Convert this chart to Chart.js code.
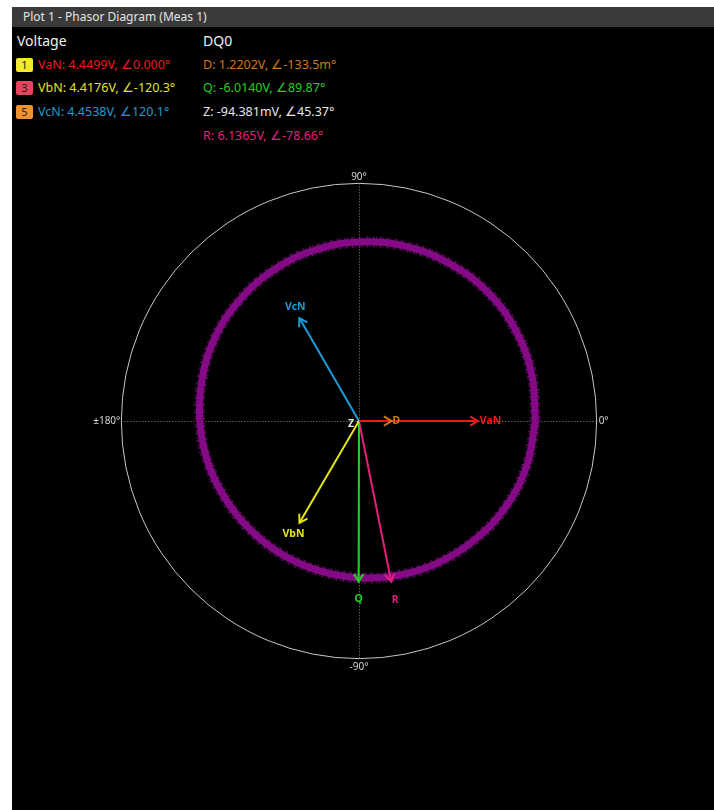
<!DOCTYPE html>
<html>
<head>
<meta charset="utf-8">
<script src="https://cdn.jsdelivr.net/npm/chart.js@4"></script>
<style>
  body { margin: 0; width: 714px; height: 810px; background: #fff; overflow: hidden; font-family: "Noto Sans", "Open Sans", sans-serif; }
  #panel { position: absolute; left: 12px; top: 7px; width: 702px; height: 803px; background: #000; }
  #titlebar { position: absolute; left: 0; top: 0; width: 702px; height: 20px; background: #3a3a3a; color: #e4e4e4; font-size: 12px; line-height: 20px; padding-left: 11px; box-sizing: border-box; }
  .hdr { position: absolute; color: #f0f0f0; font-size: 14px; line-height: 18px; }
  .row { position: absolute; font-size: 12.5px; line-height: 16px; white-space: nowrap; }
  .badge { display: inline-block; width: 17px; height: 14px; line-height: 14px; border-radius: 2px; text-align: center; color: #222; font-size: 11px; margin-right: 5px; vertical-align: 0px; }
  #phasor { position: absolute; left: 0; top: 134px; }
</style>
</head>
<body>
<div id="panel">
  <div id="titlebar">Plot 1 - Phasor Diagram (Meas 1)</div>
  <div class="hdr" style="left:5px;top:25px;">Voltage</div>
  <div class="hdr" style="left:191px;top:25px;">DQ0</div>
  <div id="legend"></div>
  <canvas id="phasor" width="694" height="560"></canvas>
</div>
<script>
// phasors: name, magnitude (V), angle (deg)
const phasorNames = ['VaN', 'VbN', 'VcN', 'D', 'Q', 'Z', 'R'];
const phasorMags = [4.4499, 4.4176, 4.4538, 1.2202, -6.0140, -0.094381, 6.1365];
const phasorAngles = [0, -120.3, 120.1, -0.1335, 89.87, 45.37, -78.66];
const magLabels = ['4.4499V', '4.4176V', '4.4538V', '1.2202V', '-6.0140V', '-94.381mV', '6.1365V'];
const angleLabels = ['0.000°', '-120.3°', '120.1°', '-133.5m°', '89.87°', '45.37°', '-78.66°'];
const channelNums = ['1', '3', '5'];

// space vector trace, radius (V) read around the ring
const ringAngles = [0, 15, 30, 45, 60, 75, 90, 105, 120, 135, 150, 165, 180,
                    195, 210, 225, 240, 255, 270, 285, 300, 315, 330, 345, 360];
const ringRadii = [6.61, 6.70, 6.78, 6.82, 6.80, 6.77, 6.70, 6.61, 6.49, 6.36, 6.23, 6.08, 5.96,
                   5.87, 5.79, 5.76, 5.77, 5.80, 5.87, 5.97, 6.09, 6.22, 6.37, 6.50, 6.61];

// polar grid
const gridRadius = 8.9;
const gridLabels = ['0°', '90°', '±180°', '-90°'];

const colors = {
  VaN: '#f01818', VbN: '#e4e414', VcN: '#1c9cd6',
  D: '#d4761a', Q: '#22d022', Z: '#e6e6e6', R: '#e2207c'
};
const badgeColors = ['#f2ea2a', '#e4445e', '#f0922e'];
const pxPerVolt = 26.7;

// legend
const legend = document.getElementById('legend');
const rowTop = [50, 73, 97, 121];
for (let i = 0; i < 3; i++) {
  const d = document.createElement('div');
  d.className = 'row';
  d.style.left = '4px';
  d.style.top = rowTop[i] + 'px';
  d.innerHTML = '<span class="badge" style="background:' + badgeColors[i] + '">' + channelNums[i] + '</span>' +
    '<span style="color:' + colors[phasorNames[i]] + '">' + phasorNames[i] + ': ' + magLabels[i] + ', ∠' + angleLabels[i] + '</span>';
  legend.appendChild(d);
}
for (let i = 3; i < 7; i++) {
  const d = document.createElement('div');
  d.className = 'row';
  d.style.left = '191px';
  d.style.top = rowTop[i - 3] + 'px';
  d.style.color = colors[phasorNames[i]];
  d.textContent = phasorNames[i] + ': ' + magLabels[i] + ', ∠' + angleLabels[i];
  legend.appendChild(d);
}

const rad = a => a * Math.PI / 180;
const ringPts = ringAngles.map((a, i) => ({ x: ringRadii[i] * Math.cos(rad(a)), y: ringRadii[i] * Math.sin(rad(a)) }));

const datasets = phasorNames.map((n, i) => ({
  label: n,
  data: [{ x: 0, y: 0 }, { x: phasorMags[i] * Math.cos(rad(phasorAngles[i])), y: phasorMags[i] * Math.sin(rad(phasorAngles[i])) }],
  showLine: true,
  borderColor: colors[n],
  borderWidth: 2,
  pointRadius: 0,
  order: n === 'D' ? 3 : 1
}));
datasets.push({
  label: 'trace',
  data: ringPts,
  showLine: true,
  borderColor: '#840a86',
  borderWidth: 7,
  tension: 0.4,
  pointRadius: 0,
  order: 20
});
datasets.push({
  label: 'trace fuzz',
  data: ringPts,
  showLine: true,
  borderColor: 'rgba(140,16,142,0.6)',
  borderWidth: 11,
  borderDash: [1, 1, 2, 3],
  tension: 0.4,
  pointRadius: 0,
  order: 21
});

// label placement relative to arrow tip
const tipLabel = {
  VaN: { dx: 2, dy: 0, align: 'left' },
  D: { dx: 1, dy: 0, align: 'left' },
  VcN: { dx: -4, dy: -11, align: 'center' },
  VbN: { dx: -6, dy: 11, align: 'center' },
  Q: { dx: 0, dy: 17, align: 'center' },
  R: { dx: 4, dy: 18, align: 'center' },
  Z: { dx: -8, dy: 3, align: 'center' }
};

const polarGrid = {
  id: 'polarGrid',
  beforeDatasetsDraw(chart) {
    const { ctx, scales: { x, y } } = chart;
    const cx = x.getPixelForValue(0), cy = y.getPixelForValue(0);
    const r = x.getPixelForValue(gridRadius) - cx;
    ctx.save();
    ctx.strokeStyle = '#c8c8c8';
    ctx.lineWidth = 1;
    ctx.beginPath();
    ctx.arc(cx, cy, r, 0, Math.PI * 2);
    ctx.stroke();
    ctx.strokeStyle = '#8a8a8a';
    ctx.setLineDash([1, 2]);
    ctx.beginPath();
    ctx.moveTo(cx - r, cy + 0.5); ctx.lineTo(cx + r, cy + 0.5);
    ctx.moveTo(cx + 0.5, cy - r); ctx.lineTo(cx + 0.5, cy + r);
    ctx.stroke();
    ctx.setLineDash([]);
    ctx.fillStyle = '#d4d4d4';
    ctx.font = '10px "Noto Sans", sans-serif';
    ctx.textBaseline = 'middle';
    ctx.textAlign = 'left';
    ctx.fillText(gridLabels[0], cx + r + 2, cy);
    ctx.textAlign = 'center';
    ctx.fillText(gridLabels[1], cx, cy - r - 6);
    ctx.fillText(gridLabels[3], cx, cy + r + 9);
    ctx.textAlign = 'right';
    ctx.fillText(gridLabels[2], cx - r - 1, cy);
    ctx.restore();
  },
  afterDatasetsDraw(chart) {
    const { ctx } = chart;
    ctx.save();
    ctx.font = 'bold 10.5px "Noto Sans", sans-serif';
    ctx.textBaseline = 'middle';
    phasorNames.forEach((n, i) => {
      const pts = chart.getDatasetMeta(i).data;
      const x0 = pts[0].x, y0 = pts[0].y, x1 = pts[1].x, y1 = pts[1].y;
      const ang = Math.atan2(y1 - y0, x1 - x0);
      ctx.strokeStyle = colors[n];
      ctx.lineWidth = 2;
      if (n !== 'Z') {
        ctx.beginPath();
        ctx.moveTo(x1 - 9 * Math.cos(ang - 0.55), y1 - 9 * Math.sin(ang - 0.55));
        ctx.lineTo(x1, y1);
        ctx.lineTo(x1 - 9 * Math.cos(ang + 0.55), y1 - 9 * Math.sin(ang + 0.55));
        ctx.stroke();
      }
      const p = tipLabel[n];
      ctx.fillStyle = colors[n];
      ctx.textAlign = p.align;
      ctx.fillText(n, (n === 'Z' ? x0 : x1) + p.dx, (n === 'Z' ? y0 : y1) + p.dy);
    });
    ctx.restore();
  }
};

const halfW = 347 / pxPerVolt, halfH = 280 / pxPerVolt;
new Chart(document.getElementById('phasor'), {
  type: 'scatter',
  data: { datasets: datasets },
  options: {
    responsive: false,
    animation: false,
    devicePixelRatio: 1,
    layout: { padding: 0 },
    plugins: { legend: { display: false }, tooltip: { enabled: false } },
    scales: {
      x: { type: 'linear', min: -halfW, max: halfW, display: false },
      y: { type: 'linear', min: -halfH, max: halfH, display: false }
    }
  },
  plugins: [polarGrid]
});
</script>
</body>
</html>
